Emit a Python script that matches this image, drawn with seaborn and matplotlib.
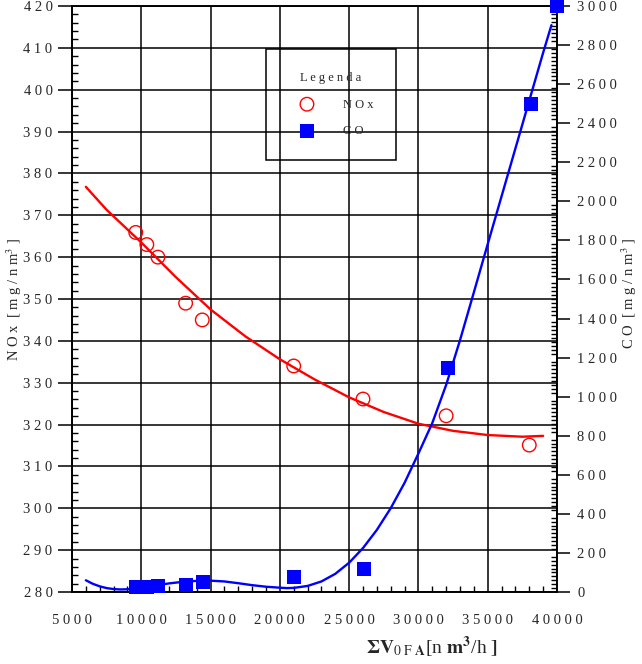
import matplotlib
matplotlib.use("Agg")
import matplotlib.pyplot as plt
import seaborn as sns
import numpy as np
from matplotlib.ticker import MultipleLocator

# ---- data ----
nox_x = [9600, 10400, 11200, 13200, 14400, 21000, 26000, 32000, 38000]
nox_y = [365.9, 363.0, 360.0, 349.0, 345.0, 334.0, 326.1, 322.1, 315.1]

co_x = [9650, 10430, 11230, 13260, 14470, 21040, 26060, 32100, 38110, 40000]
co_y = [27, 27, 31, 36, 53, 79, 116, 1148, 2497, 3000]

nox_fit_x = [6000, 7500, 10000, 12500, 15000, 17500, 20000, 22500, 25000,
             27500, 30000, 32500, 35000, 37500, 39000]
nox_fit_y = [376.8, 371.3, 363.5, 355.2, 347.5, 341.1, 335.6, 330.8, 326.5,
             323.0, 320.2, 318.5, 317.5, 317.1, 317.3]

co_fit_x = [6000, 6500, 7000, 7500, 8000, 8500, 9000, 10000, 11000, 12000,
            13000, 14000, 15000, 16000, 17000, 18000, 19000, 20000, 20500,
            21000, 22000, 23000, 24000, 25000, 26000, 27000, 28000, 29000,
            30000, 31000, 32000, 33000, 34000, 35000, 36000, 37000, 38000,
            39000, 39600]
co_fit_y = [60, 42, 29, 20, 15, 13, 14, 21, 33, 44,
            52, 57, 58, 54, 45, 35, 27, 22, 20,
            21, 31, 54, 93, 150, 225, 318, 429, 559,
            709, 865, 1060, 1289, 1534, 1781, 2026, 2271, 2516,
            2761, 2902]

x_ticks = [5000, 10000, 15000, 20000, 25000, 30000, 35000, 40000]
x_labels = ["5 0 0 0", "1 0 0 0 0", "1 5 0 0 0", "2 0 0 0 0", "2 5 0 0 0",
            "3 0 0 0 0", "3 5 0 0 0", "4 0 0 0 0"]
nox_ticks = list(range(280, 421, 10))
nox_labels = [" ".join(str(v)) for v in nox_ticks]
co_ticks = list(range(0, 3001, 200))
co_labels = [" ".join(str(v)) for v in co_ticks]

# ---- style ----
sns.set_style("white")
plt.rcParams["font.family"] = ["Liberation Serif", "DejaVu Serif"]
plt.rcParams["mathtext.fontset"] = "stix"

fig = plt.figure(figsize=(6.42, 6.64), dpi=100)
ax = fig.add_axes([72 / 642, 72 / 664, 485 / 642, 586 / 664])

sns.lineplot(x=nox_fit_x, y=nox_fit_y, ax=ax, color="red", lw=1.7)
sns.scatterplot(x=nox_x, y=nox_y, ax=ax, marker="o", s=95, facecolor="none",
                edgecolor="red", linewidth=1.0, label="N O x", zorder=5)

ax.set_xlim(5000, 40000)
ax.set_ylim(280, 420)
ax.set_xticks(x_ticks)
ax.set_xticklabels(x_labels)
ax.set_yticks(nox_ticks)
ax.set_yticklabels(nox_labels)
ax.xaxis.set_minor_locator(MultipleLocator(1000))
ax.yaxis.set_minor_locator(MultipleLocator(2))
ax.grid(True, which="major", color="black", lw=1.1)
ax.set_axisbelow(True)
ax.tick_params(which="major", direction="out", length=10, width=1.1,
               labelsize=10.5, color="black")
ax.tick_params(axis="y", which="major", pad=4)
ax.tick_params(axis="x", which="major", length=7, pad=9)
ax.tick_params(which="minor", direction="in", length=4.5, width=1.0,
               color="black", left=True, bottom=True)
for s in ax.spines.values():
    s.set_color("black")
    s.set_linewidth(1.2)

ax2 = ax.twinx()
sns.lineplot(x=co_fit_x, y=co_fit_y, ax=ax2, color="blue", lw=1.7)
sns.scatterplot(x=co_x, y=co_y, ax=ax2, marker="s", s=110, color="blue",
                edgecolor="blue", linewidth=0, label="C O", zorder=5,
                clip_on=False)
ax2.set_ylim(0, 3000)
ax2.set_yticks(co_ticks)
ax2.set_yticklabels(co_labels)
ax2.yaxis.set_minor_locator(MultipleLocator(20))
ax2.grid(False)
ax2.tick_params(axis="y", which="major", direction="out", length=9.5,
                width=1.1, pad=5, labelsize=10.5, color="black")
ax2.tick_params(axis="y", which="minor", direction="in", length=4.5,
                width=1.0, color="black", right=True)
ax2.set_ylabel("")
ax.set_ylabel("")
ax.set_xlabel("")
for s in ax2.spines.values():
    s.set_color("black")
    s.set_linewidth(1.2)

h1, l1 = ax.get_legend_handles_labels()
h2, l2 = ax2.get_legend_handles_labels()
if ax.get_legend():
    ax.get_legend().remove()
if ax2.get_legend():
    ax2.get_legend().remove()
leg = fig.legend(h1 + h2, l1 + l2, title="L e g e n d a",
                 loc="upper left", bbox_to_anchor=(265.7 / 642, 1 - 49 / 664),
                 bbox_transform=fig.transFigure, fontsize=9, title_fontsize=9,
                 frameon=True, fancybox=False, framealpha=1, edgecolor="black",
                 facecolor="none", borderaxespad=0,
                 borderpad=1.8, handlelength=3.0, handletextpad=1.35,
                 labelspacing=1.2)
leg.get_frame().set_linewidth(1.1)
leg.get_frame().set_facecolor("none")

fig.text(14 / 642, 1 - 299 / 664, r"N O x  [ m g / n m$^{3}$ ]",
         rotation=90, ha="center", va="center", fontsize=10.5)
fig.text(629 / 642, 1 - 293 / 664, r"C O  [ m g / n m$^{3}$ ]",
         rotation=90, ha="center", va="center", fontsize=10.5)
fig.text(432 / 642, 1 - 647 / 664,
         r"$\mathbf{\Sigma V}_{\mathrm{0\ F}\ \mathbf{A}}$[n $\mathbf{m^{3}}$/h $\mathbf{]}$",
         ha="center", va="center", fontsize=14)

fig.savefig("out.png", dpi=100)
